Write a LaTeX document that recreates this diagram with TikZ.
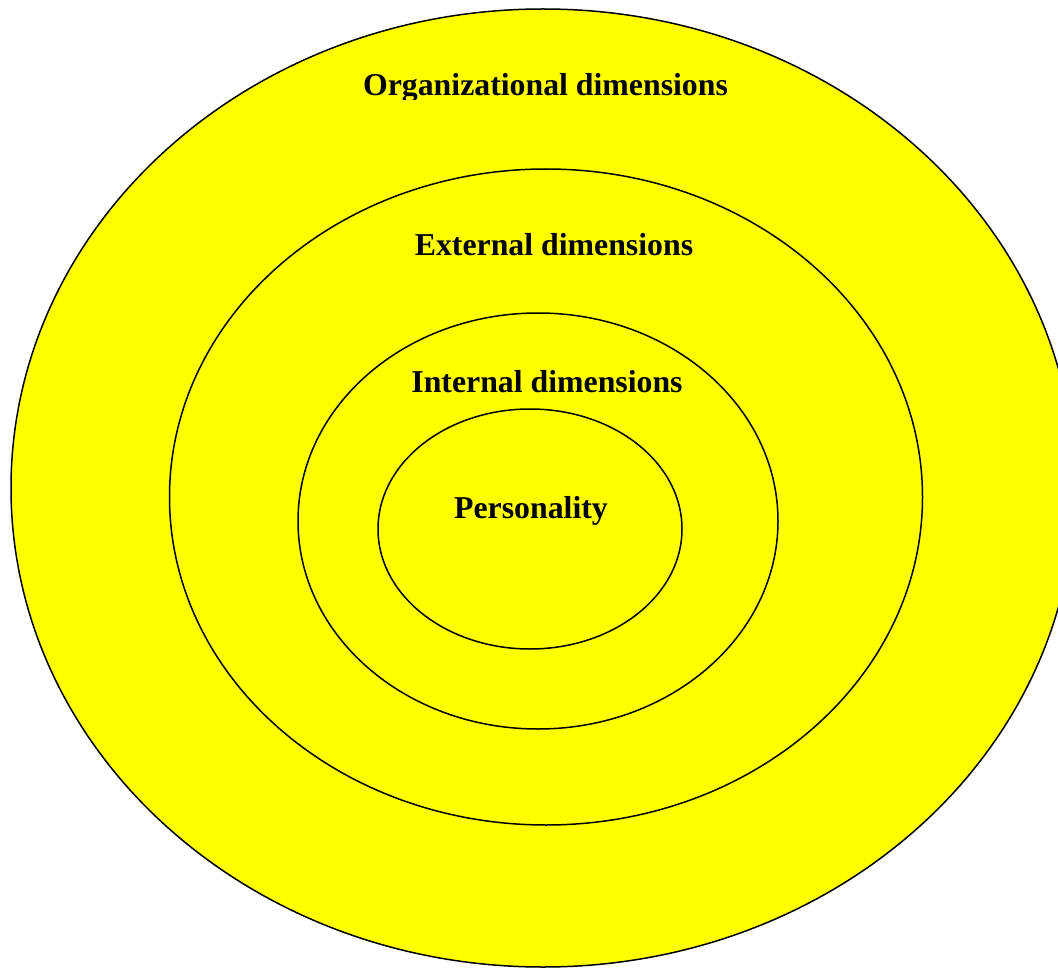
\documentclass[tikz,border=0pt]{standalone}
\usepackage{fontspec}
\setmainfont{Liberation Serif}
\usepackage{tikz}

\definecolor{ringyellow}{RGB}{255,255,0}
\tikzset{
  ring/.style={draw=black, fill=ringyellow, line width=1.5pt},
  ringtext/.style={font=\bfseries\fontsize{31.8}{38}\selectfont, anchor=base, inner sep=0pt}
}

\begin{document}
\begin{tikzpicture}[x=1pt, y=-1pt]
        \useasboundingbox (0,0) rectangle (1058,968);
        % rings, outer to inner
        \draw[ring] (543,488) ellipse [x radius=532pt, y radius=479pt];
        \draw[ring] (546,497) ellipse [x radius=376.5pt, y radius=328pt];
        \draw[ring] (538,521) ellipse [x radius=240pt, y radius=208pt];
        \draw[ring] (530,529) ellipse [x radius=152pt, y radius=120pt];
        % top title is cut off just below its baseline
        \begin{scope}
          \clip (0,0) rectangle (1058,99.5);
          \node[ringtext] (org) at (545.5,96) {Organizational dimensions};
        \end{scope}
        \node[ringtext] (ext) at (554,256) {External dimensions};
        \node[ringtext] (int) at (547,392) {Internal dimensions};
        \node[ringtext] (pers) at (531,518) {Personality};
      \end{tikzpicture}
\end{document}
